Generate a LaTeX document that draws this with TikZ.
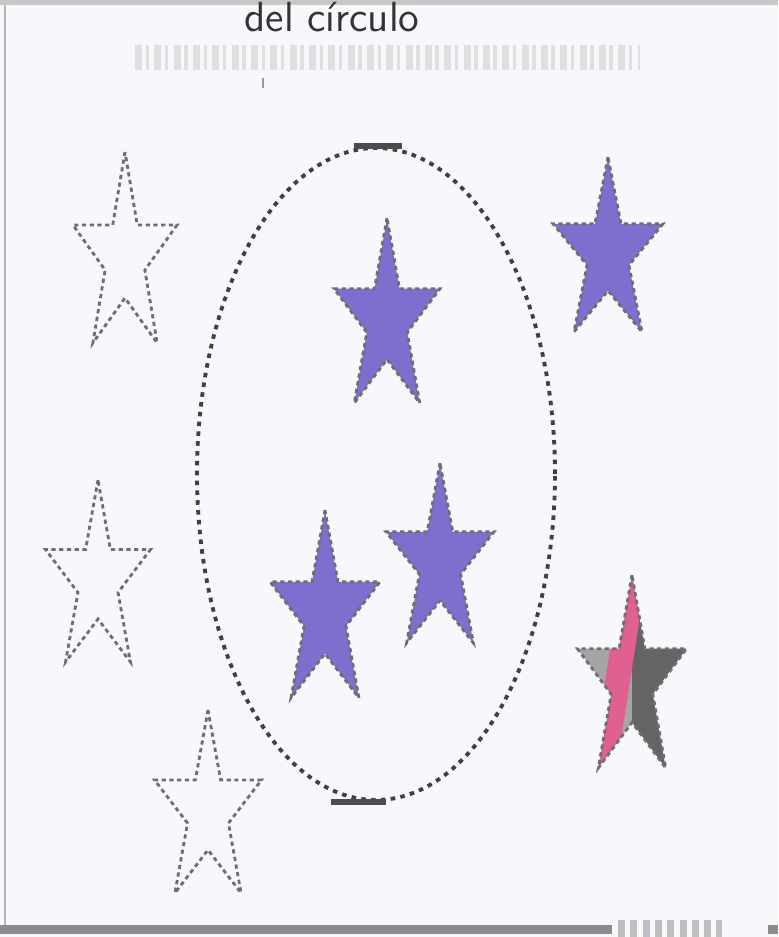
\documentclass[tikz,border=0pt]{standalone}
\usepackage{fontspec}
\usetikzlibrary{shapes.geometric}
\definecolor{papel}{RGB}{246,248,252}
\definecolor{trazo}{RGB}{110,110,110}
\definecolor{morado}{RGB}{116,96,202}
\definecolor{rosa}{RGB}{224,96,146}
\definecolor{grisclaro}{RGB}{165,165,165}
\definecolor{grisoscuro}{RGB}{100,100,100}
\newcommand{\rutaestrella}{(90:1) -- (126:0.382) -- (162:1) -- (198:0.382) -- (234:1) -- (270:0.382) -- (306:1) -- (342:0.382) -- (18:1) -- (54:0.382) -- cycle}

\begin{document}
\begin{tikzpicture}[
  x=0.1mm, y=-0.1mm,
  estrella/.pic={\path[pic actions] \rutaestrella;},
  contorno/.style={draw=trazo, line width=0.8pt, dash pattern=on 1.2pt off 1pt},
  pintada/.style={contorno, fill=morado, fill opacity=0.9},
  ovalo/.style={draw=black!75, line width=1.1pt, dash pattern=on 1.3pt off 1.5pt, ellipse, minimum width=35.8mm, minimum height=65.2mm, inner sep=0pt},
  titulo/.style={font=\sffamily\fontsize{12}{14}\selectfont, text=black!80},
  borroso/.style={black!12, line width=4pt, dash pattern=on 2pt off 1pt on 1pt off 1.5pt}
]
\useasboundingbox (0,0) rectangle (778,937);
\fill[papel] (0,0) rectangle (778,937);
% borde del escaneo
\fill[black!22] (0,0) rectangle (778,5);
\draw[black!30, line width=0.8pt] (5,5) -- (5,925);
\fill[black!45] (0,925) rectangle (612,934);
\draw[black!25, line width=5pt, dash pattern=on 2pt off 1.5pt] (618,929) -- (722,929);
\fill[black!45] (768,925) rectangle (778,934);

% titulo
\node[titulo, anchor=base] (titulo) at (332,31) {del círculo};
\draw[borroso] (135,52) -- (640,52);
\draw[borroso] (135,63) -- (640,63);
\coordinate (marca) at (263,78);
\draw[black!40, line width=0.6pt] (marca) -- ++(0,10);

% el circulo
\node[ovalo] (circulo) at (376,474) {};
\draw[black!70, line width=1.6pt] ([xshift=-2.2mm]circulo.north) -- ([xshift=2.6mm]circulo.north);
\draw[black!70, line width=1.6pt] ([xshift=-4.5mm]circulo.south) -- ([xshift=1mm]circulo.south);

% estrellas de afuera
\pic (e1) [contorno, xscale=54.7, yscale=-105.6] at (125,257.6) {estrella};
\pic (e2) [contorno, xscale=55.2, yscale=-100.6] at (98,580.6) {estrella};
\pic (e3) [contorno, xscale=56.3, yscale=-101.2] at (208,811.2) {estrella};
\pic (e4) [pintada, xscale=57.8, yscale=-96.7] at (608,253.7) {estrella};

% estrellas adentro
\pic (e5) [pintada, xscale=55.7, yscale=-102.3] at (387,320.3) {estrella};
\pic (e6) [pintada, xscale=57.8, yscale=-103.9] at (325,613.9) {estrella};
\pic (e7) [pintada, xscale=56.8, yscale=-99.5] at (440,562.5) {estrella};

% estrella gris y rosa
\begin{scope}[shift={(632,681.7)}, xscale=57.3, yscale=-106.7]
  \clip \rutaestrella;
  \fill[grisclaro] (-1.2,-1.2) rectangle (0,1.2);
  \fill[grisoscuro] (0,-1.2) rectangle (1.2,1.2);
  \draw[rosa, line width=7pt] (0.05,1.05) -- (-0.5,-0.85);
\end{scope}
\pic (e8) [contorno, xscale=57.3, yscale=-106.7] at (632,681.7) {estrella};
\end{tikzpicture}
\end{document}
